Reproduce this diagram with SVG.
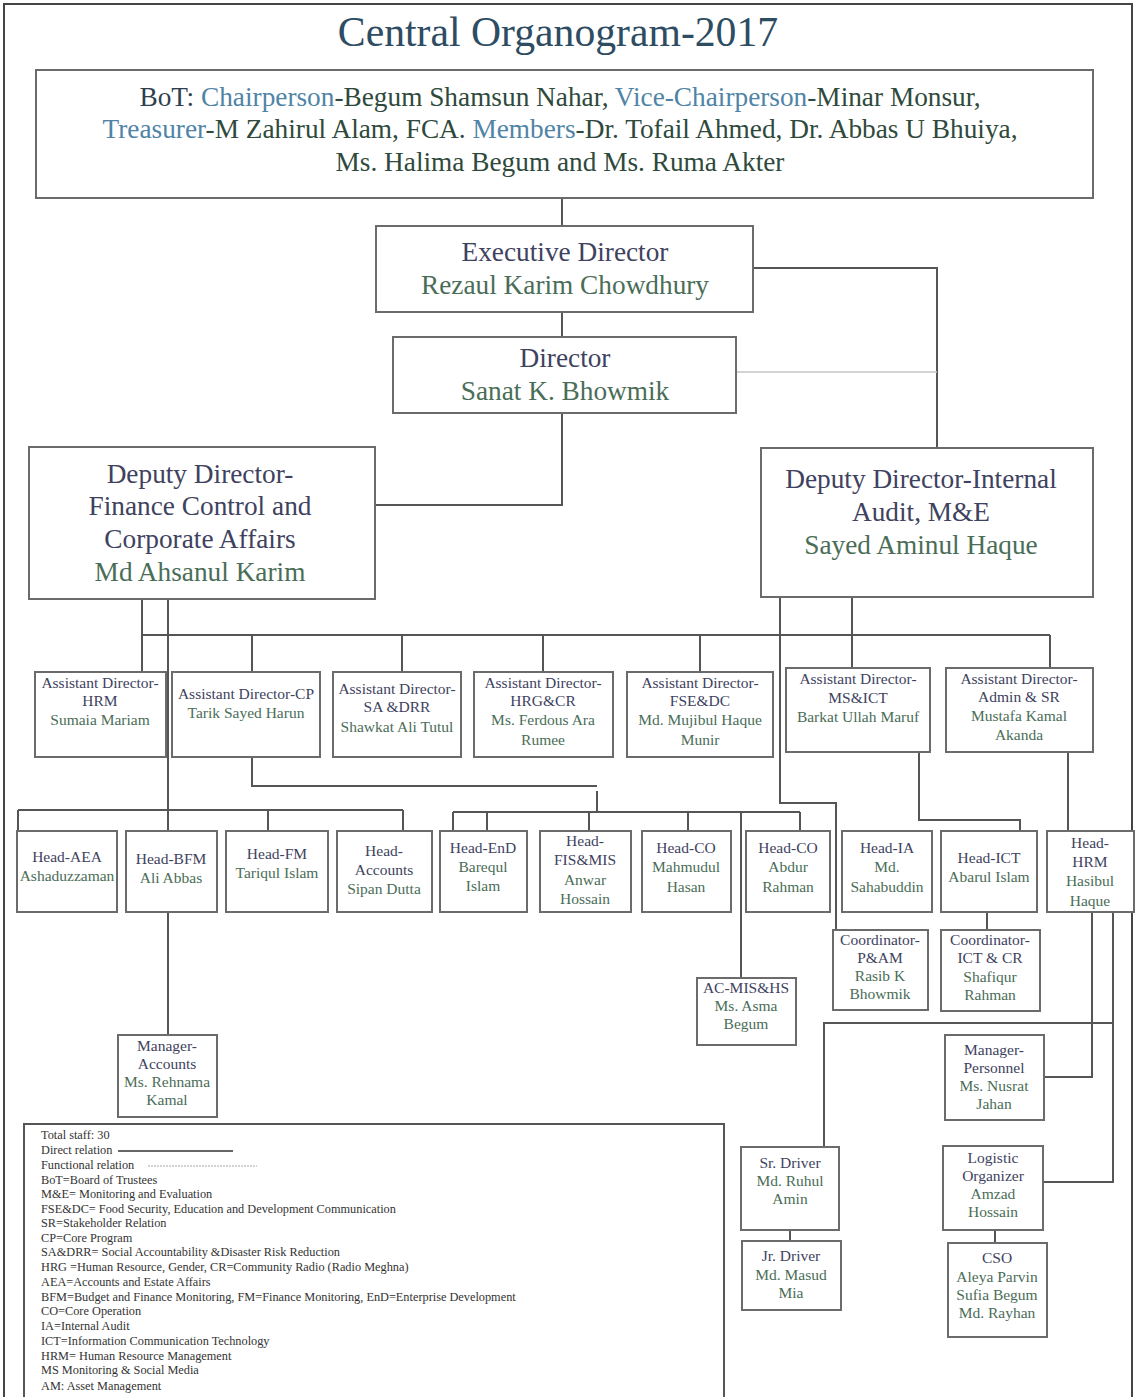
<svg xmlns="http://www.w3.org/2000/svg" width="1135" height="1397" viewBox="0 0 1135 1397">
<style>
text{font-family:"Liberation Serif","DejaVu Serif",serif;text-anchor:middle}
.box{fill:#fff;stroke:#6b6b6b;stroke-width:2}
.big{font-size:27.3px}
.sm{font-size:15.5px}
.role{fill:#3e425e}
.name{fill:#4a6d57}
.blue{fill:#4f84a6}
.ln{fill:none;stroke:#555;stroke-width:2}
.fn{fill:none;stroke:#c4c4c4;stroke-width:1.5}
.lg{font-size:12.3px;fill:#333;text-anchor:start}
</style>
<rect x="0" y="0" width="1135" height="1397" fill="#fff"/>
<rect x="4" y="4" width="1128" height="1400" fill="none" stroke="#444" stroke-width="2"/>
<text x="558" y="46" font-size="41.7" fill="#2e4c62">Central Organogram-2017</text>

<g id="connectors">
<path class="ln" d="M562 198V226"/>
<path class="ln" d="M562 312V337"/>
<path class="ln" d="M753 268H937V448"/>
<path class="fn" d="M736 372H937"/>
<path class="ln" d="M562 413V505H375"/>
<path class="ln" d="M142 599V672"/>
<path class="ln" d="M168 599V831"/>
<path class="ln" d="M142 635H1050"/>
<path class="ln" d="M252 635V672M402 635V672M543 635V672M700 635V672M1050 635V668"/>
<path class="ln" d="M852 597V668"/>
<path class="ln" d="M780 597V803H836V930"/>
<path class="ln" d="M252 757V786H597"/>
<path class="ln" d="M597 791V812"/>
<path class="ln" d="M453 812H800"/>
<path class="ln" d="M453 812V831M487 812V831M589 812V831M688 812V831M800 812V831"/>
<path class="ln" d="M741 812V978"/>
<path class="ln" d="M18 810H403M18 810V831M268 810V831M403 810V831"/>
<path class="ln" d="M168 912V1035"/>
<path class="ln" d="M919 752V820H1020V831"/>
<path class="ln" d="M1068 752V831"/>
<path class="ln" d="M987 912V930"/>
<path class="ln" d="M1092 912V1077H1044"/>
<path class="ln" d="M1113 912V1182H1043"/>
<path class="ln" d="M824 1147V1023H1113"/>
<path class="ln" d="M790 1230V1241"/>
<path class="ln" d="M995 1230V1243"/>
</g>

<g id="bot">
<rect class="box" x="36" y="70" width="1057" height="128"/>
<text class="big" x="560" y="106"><tspan fill="#2f3f50">BoT: </tspan><tspan class="blue">Chairperson</tspan><tspan fill="#2f4a3c">-Begum Shamsun Nahar, </tspan><tspan class="blue">Vice-Chairperson</tspan><tspan fill="#2f4a3c">-Minar Monsur,</tspan></text>
<text class="big" x="560" y="138"><tspan class="blue">Treasurer</tspan><tspan fill="#2f4a3c">-M Zahirul Alam, FCA. </tspan><tspan class="blue">Members</tspan><tspan fill="#2f4a3c">-Dr. Tofail Ahmed, Dr. Abbas U Bhuiya,</tspan></text>
<text class="big" x="560" y="171" fill="#2f4a3c">Ms. Halima Begum and Ms. Ruma Akter</text>
</g>

<g id="ed">
<rect class="box" x="376" y="226" width="377" height="86"/>
<text class="big role" x="565" y="261">Executive Director</text>
<text class="big name" x="565" y="294">Rezaul Karim Chowdhury</text>
</g>
<g id="director">
<rect class="box" x="393" y="337" width="343" height="76"/>
<text class="big role" x="565" y="367">Director</text>
<text class="big name" x="565" y="400">Sanat K. Bhowmik</text>
</g>
<g id="dd-finance">
<rect class="box" x="29" y="447" width="346" height="152"/>
<text class="big role" x="200" y="483">Deputy Director-</text>
<text class="big role" x="200" y="515">Finance Control and</text>
<text class="big role" x="200" y="548">Corporate Affairs</text>
<text class="big name" x="200" y="581">Md Ahsanul Karim</text>
</g>
<g id="dd-audit">
<rect class="box" x="761" y="448" width="332" height="149"/>
<text class="big role" x="921" y="488">Deputy Director-Internal</text>
<text class="big role" x="921" y="521">Audit, M&amp;E</text>
<text class="big name" x="921" y="554">Sayed Aminul Haque</text>
</g>

<g id="ad-hrm">
<rect class="box" x="35" y="672" width="131" height="85"/>
<text class="sm role" x="100" y="688">Assistant Director-</text>
<text class="sm role" x="100" y="706">HRM</text>
<text class="sm name" x="100" y="725">Sumaia Mariam</text>
</g>
<g id="ad-cp">
<rect class="box" x="172" y="672" width="148" height="85"/>
<text class="sm role" x="246" y="699">Assistant Director-CP</text>
<text class="sm name" x="246" y="718">Tarik Sayed Harun</text>
</g>
<g id="ad-sadrr">
<rect class="box" x="333" y="672" width="128" height="85"/>
<text class="sm role" x="397" y="694">Assistant Director-</text>
<text class="sm role" x="397" y="712">SA &amp;DRR</text>
<text class="sm name" x="397" y="732">Shawkat Ali Tutul</text>
</g>
<g id="ad-hrgcr">
<rect class="box" x="474" y="672" width="139" height="85"/>
<text class="sm role" x="543" y="688">Assistant Director-</text>
<text class="sm role" x="543" y="706">HRG&amp;CR</text>
<text class="sm name" x="543" y="725">Ms. Ferdous Ara</text>
<text class="sm name" x="543" y="745">Rumee</text>
</g>
<g id="ad-fsedc">
<rect class="box" x="627" y="672" width="146" height="85"/>
<text class="sm role" x="700" y="688">Assistant Director-</text>
<text class="sm role" x="700" y="706">FSE&amp;DC</text>
<text class="sm name" x="700" y="725">Md. Mujibul Haque</text>
<text class="sm name" x="700" y="745">Munir</text>
</g>
<g id="ad-msict">
<rect class="box" x="786" y="668" width="144" height="84"/>
<text class="sm role" x="858" y="684">Assistant Director-</text>
<text class="sm role" x="858" y="703">MS&amp;ICT</text>
<text class="sm name" x="858" y="722">Barkat Ullah Maruf</text>
</g>
<g id="ad-admin">
<rect class="box" x="946" y="668" width="147" height="84"/>
<text class="sm role" x="1019" y="684">Assistant Director-</text>
<text class="sm role" x="1019" y="702">Admin &amp; SR</text>
<text class="sm name" x="1019" y="721">Mustafa Kamal</text>
<text class="sm name" x="1019" y="740">Akanda</text>
</g>

<g id="head-aea">
<rect class="box" x="17" y="831" width="100" height="81"/>
<text class="sm role" x="67" y="862">Head-AEA</text>
<text class="sm name" x="67" y="881">Ashaduzzaman</text>
</g>
<g id="head-bfm">
<rect class="box" x="126" y="831" width="91" height="81"/>
<text class="sm role" x="171" y="864">Head-BFM</text>
<text class="sm name" x="171" y="883">Ali Abbas</text>
</g>
<g id="head-fm">
<rect class="box" x="226" y="831" width="102" height="81"/>
<text class="sm role" x="277" y="859">Head-FM</text>
<text class="sm name" x="277" y="878">Tariqul Islam</text>
</g>
<g id="head-accounts">
<rect class="box" x="337" y="831" width="95" height="81"/>
<text class="sm role" x="384" y="856">Head-</text>
<text class="sm role" x="384" y="875">Accounts</text>
<text class="sm name" x="384" y="894">Sipan Dutta</text>
</g>
<g id="head-end">
<rect class="box" x="440" y="831" width="87" height="81"/>
<text class="sm role" x="483" y="853">Head-EnD</text>
<text class="sm name" x="483" y="872">Barequl</text>
<text class="sm name" x="483" y="891">Islam</text>
</g>
<g id="head-fismis">
<rect class="box" x="540" y="831" width="91" height="81"/>
<text class="sm role" x="585" y="846">Head-</text>
<text class="sm role" x="585" y="865">FIS&amp;MIS</text>
<text class="sm name" x="585" y="885">Anwar</text>
<text class="sm name" x="585" y="904">Hossain</text>
</g>
<g id="head-co-mahmudul">
<rect class="box" x="642" y="831" width="89" height="81"/>
<text class="sm role" x="686" y="853">Head-CO</text>
<text class="sm name" x="686" y="872">Mahmudul</text>
<text class="sm name" x="686" y="892">Hasan</text>
</g>
<g id="head-co-abdur">
<rect class="box" x="746" y="831" width="84" height="81"/>
<text class="sm role" x="788" y="853">Head-CO</text>
<text class="sm name" x="788" y="872">Abdur</text>
<text class="sm name" x="788" y="892">Rahman</text>
</g>
<g id="head-ia">
<rect class="box" x="842" y="831" width="90" height="81"/>
<text class="sm role" x="887" y="853">Head-IA</text>
<text class="sm name" x="887" y="872">Md.</text>
<text class="sm name" x="887" y="892">Sahabuddin</text>
</g>
<g id="head-ict">
<rect class="box" x="941" y="831" width="96" height="81"/>
<text class="sm role" x="989" y="863">Head-ICT</text>
<text class="sm name" x="989" y="882">Abarul Islam</text>
</g>
<g id="head-hrm">
<rect class="box" x="1047" y="831" width="87" height="81"/>
<text class="sm role" x="1090" y="848">Head-</text>
<text class="sm role" x="1090" y="867">HRM</text>
<text class="sm name" x="1090" y="886">Hasibul</text>
<text class="sm name" x="1090" y="906">Haque</text>
</g>

<g id="mgr-accounts">
<rect class="box" x="118" y="1035" width="99" height="82"/>
<text class="sm role" x="167" y="1051">Manager-</text>
<text class="sm role" x="167" y="1069">Accounts</text>
<text class="sm name" x="167" y="1087">Ms. Rehnama</text>
<text class="sm name" x="167" y="1105">Kamal</text>
</g>
<g id="ac-mishs">
<rect class="box" x="697" y="978" width="99" height="67"/>
<text class="sm role" x="746" y="993">AC-MIS&amp;HS</text>
<text class="sm name" x="746" y="1011">Ms. Asma</text>
<text class="sm name" x="746" y="1029">Begum</text>
</g>
<g id="coord-pam">
<rect class="box" x="833" y="930" width="95" height="80"/>
<text class="sm role" x="880" y="945">Coordinator-</text>
<text class="sm role" x="880" y="963">P&amp;AM</text>
<text class="sm name" x="880" y="981">Rasib K</text>
<text class="sm name" x="880" y="999">Bhowmik</text>
</g>
<g id="coord-ictcr">
<rect class="box" x="941" y="930" width="99" height="81"/>
<text class="sm role" x="990" y="945">Coordinator-</text>
<text class="sm role" x="990" y="963">ICT &amp; CR</text>
<text class="sm name" x="990" y="982">Shafiqur</text>
<text class="sm name" x="990" y="1000">Rahman</text>
</g>
<g id="mgr-personnel">
<rect class="box" x="945" y="1035" width="99" height="85"/>
<text class="sm role" x="994" y="1055">Manager-</text>
<text class="sm role" x="994" y="1073">Personnel</text>
<text class="sm name" x="994" y="1091">Ms. Nusrat</text>
<text class="sm name" x="994" y="1109">Jahan</text>
</g>
<g id="sr-driver">
<rect class="box" x="741" y="1147" width="98" height="83"/>
<text class="sm role" x="790" y="1168">Sr. Driver</text>
<text class="sm name" x="790" y="1186">Md. Ruhul</text>
<text class="sm name" x="790" y="1204">Amin</text>
</g>
<g id="logistic">
<rect class="box" x="943" y="1146" width="100" height="84"/>
<text class="sm role" x="993" y="1163">Logistic</text>
<text class="sm role" x="993" y="1181">Organizer</text>
<text class="sm name" x="993" y="1199">Amzad</text>
<text class="sm name" x="993" y="1217">Hossain</text>
</g>
<g id="jr-driver">
<rect class="box" x="742" y="1241" width="99" height="69"/>
<text class="sm role" x="791" y="1261">Jr. Driver</text>
<text class="sm name" x="791" y="1280">Md. Masud</text>
<text class="sm name" x="791" y="1298">Mia</text>
</g>
<g id="cso">
<rect class="box" x="948" y="1243" width="99" height="94"/>
<text class="sm role" x="997" y="1263">CSO</text>
<text class="sm name" x="997" y="1282">Aleya Parvin</text>
<text class="sm name" x="997" y="1300">Sufia Begum</text>
<text class="sm name" x="997" y="1318">Md. Rayhan</text>
</g>

<g id="legend">
<rect x="24" y="1124" width="700" height="290" fill="#fff" stroke="#555" stroke-width="2"/>
<line x1="118" y1="1151" x2="233" y2="1151" stroke="#333" stroke-width="1.5"/>
<line x1="148" y1="1166" x2="257" y2="1166" stroke="#c4c4c4" stroke-width="1.5" stroke-dasharray="2 1"/>
<text class="lg" x="41" y="1139">Total staff: 30</text>
<text class="lg" x="41" y="1154">Direct relation</text>
<text class="lg" x="41" y="1169">Functional relation</text>
<text class="lg" x="41" y="1184">BoT=Board of Trustees</text>
<text class="lg" x="41" y="1198">M&amp;E= Monitoring and Evaluation</text>
<text class="lg" x="41" y="1213">FSE&amp;DC= Food Security, Education and Development Communication</text>
<text class="lg" x="41" y="1227">SR=Stakeholder Relation</text>
<text class="lg" x="41" y="1242">CP=Core Program</text>
<text class="lg" x="41" y="1256">SA&amp;DRR= Social Accountability &amp;Disaster Risk Reduction</text>
<text class="lg" x="41" y="1271">HRG =Human Resource, Gender, CR=Community Radio (Radio Meghna)</text>
<text class="lg" x="41" y="1286">AEA=Accounts and Estate Affairs</text>
<text class="lg" x="41" y="1301">BFM=Budget and Finance Monitoring, FM=Finance Monitoring, EnD=Enterprise Development</text>
<text class="lg" x="41" y="1315">CO=Core Operation</text>
<text class="lg" x="41" y="1330">IA=Internal Audit</text>
<text class="lg" x="41" y="1345">ICT=Information Communication Technology</text>
<text class="lg" x="41" y="1360">HRM= Human Resource Management</text>
<text class="lg" x="41" y="1374">MS Monitoring &amp; Social Media</text>
<text class="lg" x="41" y="1390">AM: Asset Management</text>
</g>
</svg>
